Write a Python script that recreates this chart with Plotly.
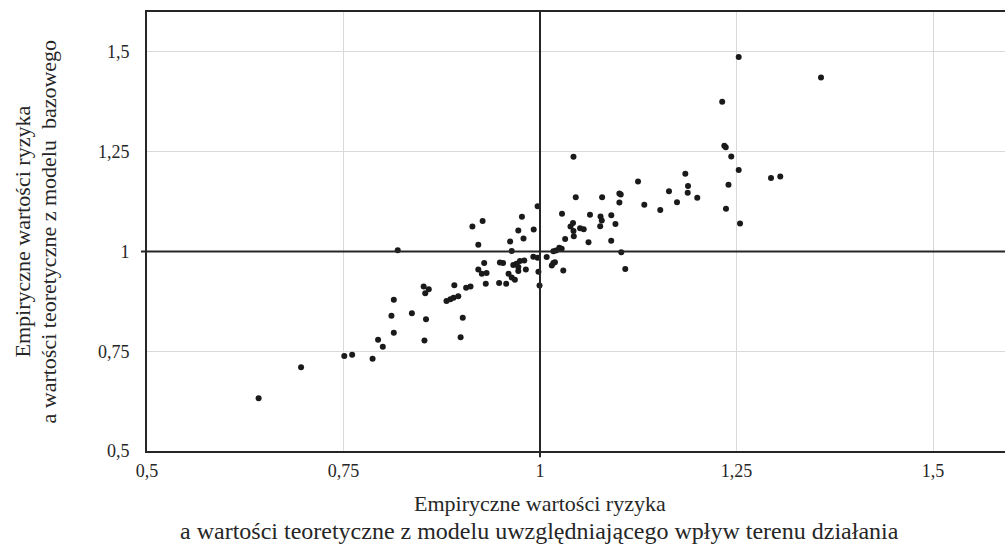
import plotly.graph_objects as go

# Data
x_vals = [0.642, 0.696, 0.751, 0.761, 0.787, 0.794, 0.800, 0.814, 0.811, 0.814,
          0.837, 0.853, 0.855, 0.852, 0.8585, 0.854, 0.819, 0.881, 0.886, 0.890,
          0.896, 0.891, 0.899, 0.9017, 0.906, 0.9116, 0.914, 0.927, 0.9215, 0.929,
          0.9215, 0.926, 0.932, 0.931, 0.948, 0.957, 0.949, 0.953, 0.962, 0.9724,
          0.977, 0.997, 0.979, 0.992, 0.964, 0.960, 0.964, 0.968, 0.966, 0.970,
          0.9745, 0.980, 0.9724, 0.9724, 0.982, 0.9915, 0.997, 0.998, 0.9994, 1.0085,
          1.017, 1.0204, 1.0245, 1.0276, 1.017, 1.015, 1.019, 1.0296, 1.032, 1.043,
          1.0426, 1.0388, 1.042, 1.051, 1.0556, 1.028, 1.0426, 1.0455, 1.0617, 1.0636,
          1.077, 1.0786, 1.0766, 1.079, 1.0907, 1.096, 1.0906, 1.101, 1.1027, 1.101,
          1.1034, 1.1085, 1.1247, 1.1327, 1.153, 1.1641, 1.1743, 1.1849, 1.1883, 1.1879,
          1.2001, 1.2318, 1.2345, 1.2363, 1.2433, 1.2528, 1.2398, 1.2366, 1.2545, 1.2528,
          1.3575, 1.2939, 1.3057]
y_vals = [0.632, 0.710, 0.738, 0.741, 0.731, 0.779, 0.761, 0.796, 0.839, 0.879,
          0.845, 0.777, 0.830, 0.912, 0.9055, 0.8955, 1.003, 0.876, 0.880, 0.884,
          0.888, 0.9155, 0.785, 0.834, 0.909, 0.912, 1.0625, 1.076, 1.017, 0.971,
          0.955, 0.944, 0.946, 0.919, 0.921, 0.919, 0.9725, 0.971, 1.025, 1.0525,
          1.087, 1.113, 1.0325, 1.055, 1.001, 0.944, 0.935, 0.929, 0.966, 0.969,
          0.976, 0.9775, 0.961, 0.951, 0.955, 0.987, 0.984, 0.949, 0.915, 0.986,
          1.0008, 1.0025, 1.009, 1.007, 0.971, 0.965, 0.973, 0.952, 1.031, 1.038,
          1.051, 1.0625, 1.071, 1.058, 1.0555, 1.0945, 1.237, 1.136, 1.023, 1.092,
          1.0875, 1.0775, 1.063, 1.136, 1.0905, 1.069, 1.027, 1.1455, 1.143, 1.1225,
          0.998, 0.956, 1.175, 1.117, 1.104, 1.151, 1.123, 1.195, 1.164, 1.147,
          1.1345, 1.375, 1.265, 1.261, 1.238, 1.204, 1.167, 1.107, 1.070, 1.487,
          1.436, 1.184, 1.188]

tick_vals = [0.5, 0.75, 1, 1.25, 1.5]
tick_text = ["0,5", "0,75", "1", "1,25", "1,5"]

x_title_lines = ["Empiryczne wartości ryzyka",
                 "a wartości teoretyczne z modelu uwzględniającego wpływ terenu działania"]
y_title_lines = ["Empiryczne wartości ryzyka",
                 "a wartości teoretyczne z modelu  bazowego"]

FONT = "Liberation Serif, Times New Roman, serif"
TXT = "#262626"
AX = "#262626"

fig = go.Figure()
fig.add_trace(go.Scatter(
    x=x_vals, y=y_vals, mode="markers",
    marker=dict(size=6, color="#1a1a1a"),
    showlegend=False, hoverinfo="x+y",
))

axis_common = dict(
    tickvals=tick_vals, ticktext=tick_text,
    showgrid=True, gridcolor="#d9d9d9", gridwidth=1,
    zeroline=False, showline=True, linecolor=AX, linewidth=2,
    ticks="", tickfont=dict(family=FONT, size=18, color=TXT),
    fixedrange=True,
)

annotations = [
    dict(text=x_title_lines[0], xref="paper", yref="paper", x=0.458, y=0,
         xanchor="center", yanchor="middle", yshift=-52, showarrow=False,
         font=dict(family=FONT, size=22, color=TXT)),
    dict(text=x_title_lines[1], xref="paper", yref="paper", x=0.458, y=0,
         xanchor="center", yanchor="middle", yshift=-80, showarrow=False,
         font=dict(family=FONT, size=24, color=TXT)),
    dict(text=y_title_lines[0], xref="paper", yref="paper", x=0, y=0.5,
         xanchor="center", yanchor="middle", xshift=-125, showarrow=False,
         textangle=-90, font=dict(family=FONT, size=22, color=TXT)),
    dict(text=y_title_lines[1], xref="paper", yref="paper", x=0, y=0.5,
         xanchor="center", yanchor="middle", xshift=-99, showarrow=False,
         textangle=-90, font=dict(family=FONT, size=22, color=TXT)),
]

fig.update_layout(
    width=1005, height=546,
    margin=dict(l=147, r=0, t=12, b=95),
    paper_bgcolor="white", plot_bgcolor="white",
    font=dict(family=FONT, color=TXT),
    xaxis=dict(range=[0.5, 1.5916], mirror=True, ticklabelstandoff=2, **axis_common),
    yaxis=dict(range=[0.5, 1.6], mirror=False, ticklabelstandoff=12, **axis_common),
    shapes=[
        dict(type="line", xref="x", yref="paper", x0=1, x1=1, y0=-0.014, y1=1,
             line=dict(color=AX, width=2), layer="above"),
        dict(type="line", xref="paper", yref="y", x0=-0.007, x1=1, y0=1, y1=1,
             line=dict(color=AX, width=2), layer="above"),
    ],
    annotations=annotations,
)

fig.write_html("out.html", config={"displayModeBar": False},
               post_script="document.body.style.margin='0';document.body.style.overflow='hidden';")
